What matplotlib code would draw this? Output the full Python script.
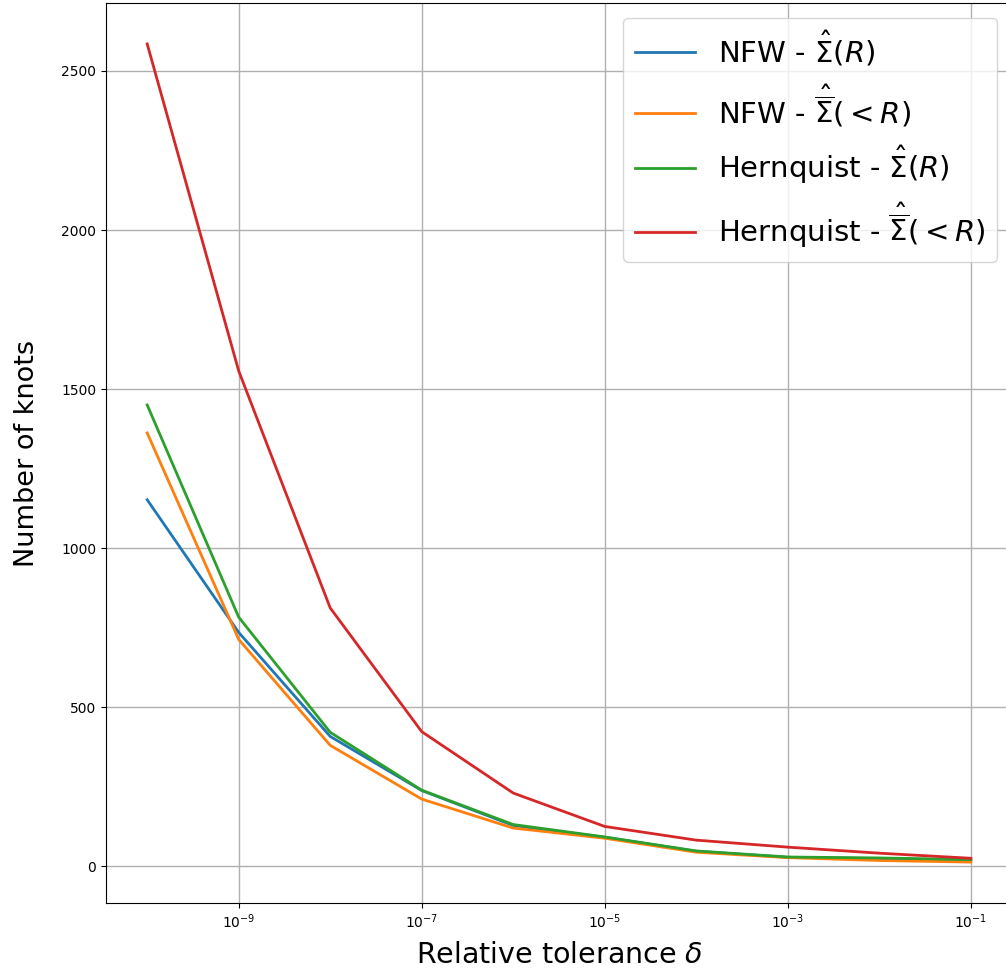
import matplotlib.pyplot as plt

# relative tolerances and number of knots for each profile
tolerance = [1e-10, 1e-9, 1e-8, 1e-7, 1e-6, 1e-5, 1e-4, 1e-3, 1e-2, 1e-1]
nfw_sigma = [1152, 735, 408, 238, 128, 91, 47, 28, 24, 19]
nfw_mean_sigma = [1362, 713, 380, 211, 120, 88, 44, 27, 18, 13]
hern_sigma = [1450, 783, 421, 239, 131, 92, 48, 29, 26, 21]
hern_mean_sigma = [2585, 1557, 812, 423, 230, 125, 82, 60, 41, 25]

labels = [r'NFW - $\hat{\Sigma}(R)$',
          r'NFW - $\hat{\overline{\Sigma}}(<R)$',
          r'Hernquist - $\hat{\Sigma}(R)$',
          r'Hernquist - $\hat{\overline{\Sigma}}(<R)$']

fig = plt.figure(figsize=(10.06, 9.74), dpi=100)
ax = fig.add_subplot(111)
# right spine sits just outside the saved picture, as in the reference
fig.subplots_adjust(left=106/1006, right=1012/1006, top=1-3/974, bottom=1-903/974)

for ys, lab in zip([nfw_sigma, nfw_mean_sigma, hern_sigma, hern_mean_sigma], labels):
    ax.plot(tolerance, ys, label=lab, lw=2)

ax.set_xscale('log')
ax.set_xticks([1e-9, 1e-7, 1e-5, 1e-3, 1e-1])
ax.xaxis.set_minor_locator(plt.NullLocator())
ax.tick_params(labelsize=10)
ax.grid(True, color='#b0b0b0', lw=1)
ax.set_xlabel(r'Relative tolerance $\delta$', fontsize=20.5, labelpad=7)
ax.set_ylabel('Number of knots', fontsize=19.5, labelpad=15)
ax.legend(fontsize=21, loc='upper right', handlelength=2.05)

fig.savefig('out.png', dpi=100)
